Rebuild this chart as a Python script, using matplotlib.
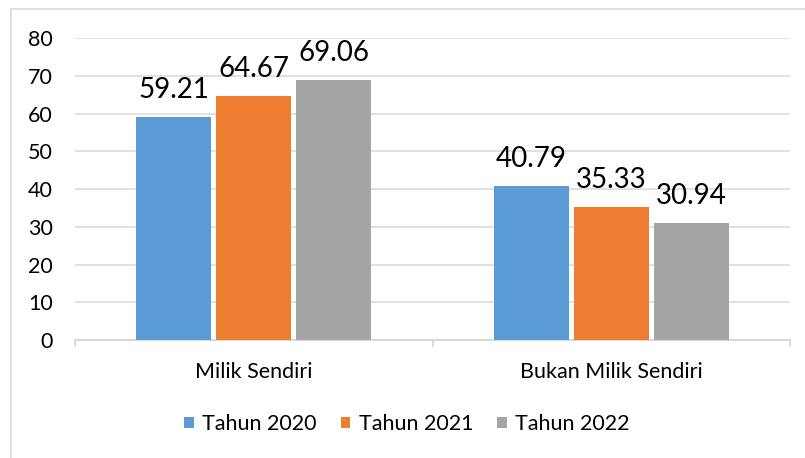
import matplotlib.pyplot as plt
import numpy as np
from matplotlib.patches import Rectangle

plt.rcParams["font.family"] = ["Lato", "DejaVu Sans"]

# data
categories = ["Milik Sendiri", "Bukan Milik Sendiri"]
series_names = ["Tahun 2020", "Tahun 2021", "Tahun 2022"]
tahun_2020 = [59.21, 40.79]
tahun_2021 = [64.67, 35.33]
tahun_2022 = [69.06, 30.94]
colors = ["#5B9BD5", "#ED7D31", "#A5A5A5"]

W, H = 805, 458
fig = plt.figure(figsize=(W / 100, H / 100), dpi=100)
ax = fig.add_axes([75 / W, 1 - 340 / H, 715 / W, (340 - 38.3) / H])

# outer chart border (partly cropped in the reference)
fig.patches.append(Rectangle((10.5 / W, -0.1), 1.2, 1.1 - 8.5 / H,
                             transform=fig.transFigure, fill=False,
                             edgecolor="#D9D9D9", lw=1.2))

x = np.arange(len(categories))
step = 80 / 357.5
width = 75 / 357.5
for i, (name, vals) in enumerate(zip(series_names, [tahun_2020, tahun_2021, tahun_2022])):
    b = ax.bar(x + (i - 1) * step, vals, width, color=colors[i], label=name, zorder=3)
    for rect, v in zip(b, vals):
        ax.annotate(f"{v:.2f}", (rect.get_x() + rect.get_width() / 2, v),
                    xytext=(0, 10), textcoords="offset points",
                    ha="center", va="bottom", fontsize=20, color="black")

ax.set_ylim(0, 80)
ax.set_xlim(-0.5, 1.5)
ax.set_yticks(range(0, 81, 10))
ax.yaxis.grid(True, color="#D9D9D9", lw=1.1, zorder=0)
ax.set_axisbelow(True)
ax.tick_params(axis="y", length=0, pad=16, labelsize=15.5)

ax.set_xticks(x)
ax.set_xticklabels(categories)
ax.set_xticks([-0.5, 0.5, 1.5], minor=True)
ax.tick_params(axis="x", which="major", length=0, pad=16, labelsize=15.5)
ax.tick_params(axis="x", which="minor", length=5, width=1.3, color="#D9D9D9")

for s in ["top", "right", "left"]:
    ax.spines[s].set_visible(False)
ax.spines["bottom"].set_color("#D9D9D9")
ax.spines["bottom"].set_linewidth(1.5)

fig.legend(loc="center", bbox_to_anchor=(407 / W, 1 - 424 / H), ncol=3,
           frameon=False, fontsize=15.5, handlelength=0.45, handleheight=0.45,
           handletextpad=0.4, columnspacing=1.1)

fig.savefig("out.png", dpi=100)
